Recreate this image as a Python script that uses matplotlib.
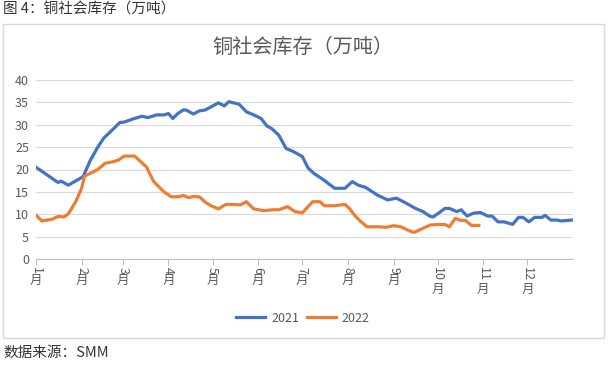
import matplotlib
matplotlib.use("Agg")
import matplotlib.pyplot as plt
from matplotlib.patches import Rectangle
from matplotlib.lines import Line2D

plt.rcParams['font.family'] = ['Noto Sans CJK SC', 'DejaVu Sans']

# days since Jan 1 and inventory (10k t)
days_2021 = [0, 15, 17, 22, 32, 37, 42, 46, 53, 57, 60, 66, 72, 76, 82, 87, 90, 93,
             96, 100, 102, 107, 111, 115, 119, 124, 128, 131, 138, 143, 148, 153, 157,
             160, 165, 170, 175, 181, 185, 189, 195, 203, 210, 215, 219, 224, 232, 239,
             245, 252, 258, 263, 268, 270, 278, 281, 286, 289, 293, 297, 302, 307, 310,
             314, 318, 324, 328, 331, 335, 339, 344, 346, 350, 354, 357, 364]
stock_2021 = [20.5, 17.1, 17.4, 16.5, 18.4, 22.1, 25.0, 27.0, 29.2, 30.5, 30.6, 31.3,
              31.9, 31.6, 32.2, 32.2, 32.5, 31.4, 32.4, 33.3, 33.3, 32.4, 33.1, 33.3,
              34.0, 34.9, 34.2, 35.15, 34.6, 32.9, 32.2, 31.4, 29.7, 29.2, 27.7, 24.7,
              24.0, 22.9, 20.3, 19.1, 17.8, 15.8, 15.8, 17.3, 16.5, 16.0, 14.3, 13.2,
              13.6, 12.4, 11.3, 10.6, 9.5, 9.4, 11.3, 11.3, 10.6, 11.0, 9.6, 10.2, 10.4,
              9.6, 9.6, 8.3, 8.3, 7.75, 9.3, 9.3, 8.3, 9.3, 9.3, 9.75, 8.7, 8.7, 8.5, 8.7]

days_2022 = [0, 4, 11, 15, 19, 22, 27, 31, 33, 42, 47, 52, 56, 60, 67, 75, 80, 87, 92,
             97, 100, 104, 107, 111, 115, 119, 124, 129, 133, 139, 143, 148, 155, 161,
             165, 171, 176, 181, 188, 193, 196, 203, 210, 213, 217, 221, 225, 232, 238,
             243, 248, 254, 257, 262, 268, 272, 278, 281, 285, 289, 292, 296, 301]
stock_2022 = [9.8, 8.5, 8.9, 9.5, 9.4, 10.1, 12.8, 15.8, 18.5, 20.0, 21.4, 21.7, 22.1,
              23.0, 23.0, 20.6, 17.3, 15.0, 13.9, 13.9, 14.2, 13.7, 14.0, 13.9, 12.7,
              11.9, 11.2, 12.2, 12.2, 12.1, 12.8, 11.2, 10.8, 11.0, 11.0, 11.7, 10.6,
              10.3, 12.8, 12.8, 11.9, 11.9, 12.2, 11.3, 9.6, 8.3, 7.2, 7.2, 7.1, 7.45,
              7.2, 6.25, 5.95, 6.7, 7.6, 7.7, 7.7, 7.2, 9.1, 8.6, 8.6, 7.5, 7.5]

month_starts = [0, 31, 59, 90, 120, 151, 181, 212, 243, 273, 304, 334]
month_nums = [str(m) for m in range(1, 13)]
y_ticks = [0, 5, 10, 15, 20, 25, 30, 35, 40]

BLUE = '#4472C4'
ORANGE = '#ED7D31'
GRAY = '#595959'

fig = plt.figure(figsize=(6.11, 3.65), dpi=100)
ax = fig.add_axes([36 / 611, 1 - 259 / 365, (573 - 36) / 611, (259 - 80) / 365])

ax.plot(days_2021, stock_2021, color=BLUE, lw=2.3, solid_joinstyle='round')
ax.plot(days_2022, stock_2022, color=ORANGE, lw=2.3, solid_joinstyle='round')

ax.set_xlim(0, 365)
ax.set_ylim(0, 40)
ax.set_yticks(y_ticks)
ax.tick_params(axis='y', length=0, pad=5, labelsize=9, labelcolor=GRAY)
ax.grid(axis='y', color='#d9d9d9', lw=0.8)
ax.set_axisbelow(True)
for side in ['top', 'right', 'left']:
    ax.spines[side].set_visible(False)
ax.spines['bottom'].set_color('#bfbfbf')
ax.spines['bottom'].set_linewidth(0.8)

ax.set_xticks(month_starts)
ax.set_xticklabels([])
ax.tick_params(axis='x', length=4, color='#bfbfbf', width=0.8)

# month labels: digits turned sideways, 月 upright underneath
for d, num in zip(month_starts, month_nums):
    ax.annotate(num, xy=(d, 0), xycoords=('data', 'axes fraction'),
                xytext=(0, -5.5), textcoords='offset points',
                rotation=-90, ha='center', va='top', fontsize=9, color=GRAY)
    off = -4.3 - len(num) * 6.5
    ax.annotate('月', xy=(d, 0), xycoords=('data', 'axes fraction'),
                xytext=(0, off), textcoords='offset points',
                ha='center', va='top', fontsize=9, color=GRAY)

# outer chart frame
fig.patches.append(Rectangle((3 / 611, 1 - 338 / 365), 601 / 611, 314 / 365,
                             transform=fig.transFigure, fill=False,
                             edgecolor='#d9d9d9', lw=1))

fig.text(303 / 611, 1 - 47 / 365, '铜社会库存（万吨）', ha='center', va='center',
         fontsize=14.5, color=GRAY)
fig.text(3 / 611, 1 - 10 / 365, '图 4：铜社会库存（万吨）', ha='left', va='center',
         fontsize=10.5, color='#333333')
fig.text(3 / 611, 1 - 353 / 365, '数据来源：SMM', ha='left', va='center',
         fontsize=10.5, color='#333333')

handles = [Line2D([], [], color=BLUE, lw=2.3), Line2D([], [], color=ORANGE, lw=2.3)]
fig.legend(handles, ['2021', '2022'], loc='center', bbox_to_anchor=(303 / 611, 1 - 318 / 365),
           ncol=2, frameon=False, fontsize=9, labelcolor=GRAY,
           handlelength=2.3, handletextpad=0.5, columnspacing=0.6)

fig.savefig('out.png', dpi=100)
